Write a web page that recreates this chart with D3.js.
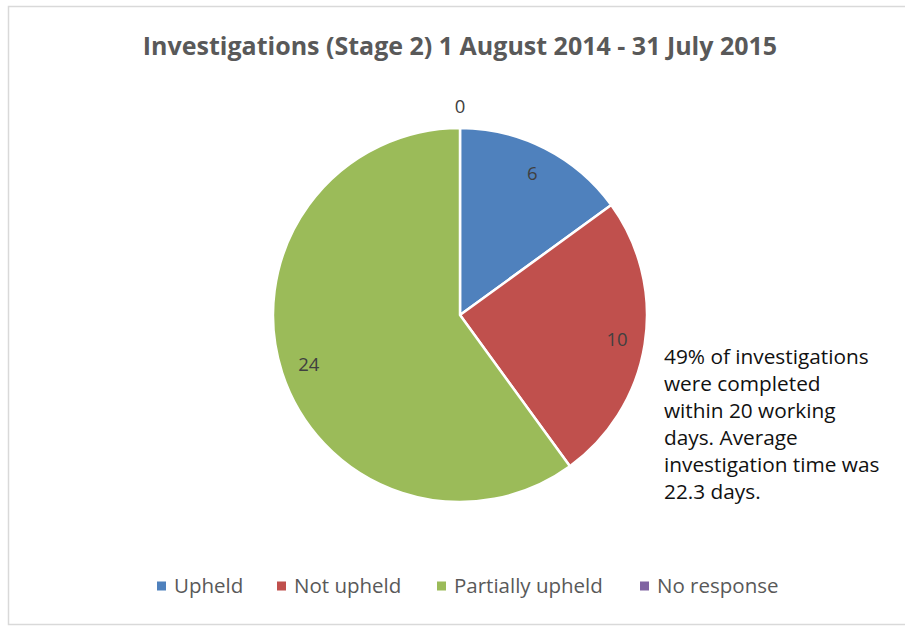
<!DOCTYPE html>
<html>
<head>
<meta charset="utf-8">
<script src="https://cdn.jsdelivr.net/npm/d3@7"></script>
<style>
  html, body { margin: 0; padding: 0; background: #fff; }
  svg { display: block; }
</style>
</head>
<body>
<svg id="chart" width="905" height="627"></svg>
<script>
var categories = ['Upheld', 'Not upheld', 'Partially upheld', 'No response'];
var values = [6, 10, 24, 0];
var colors = ['#4F81BD', '#C0504D', '#9BBB59', '#8064A2'];
var titleText = 'Investigations (Stage 2) 1 August 2014 - 31 July 2015';
var noteLines = [
    '49% of investigations',
    'were completed',
    'within 20 working',
    'days. Average',
    'investigation time was',
    '22.3 days.'
];

var FONT = 'Open Sans, Noto Sans, sans-serif';
var CX = 460, CY = 315, RADIUS = 187;

var svg = d3.select('#chart');

// outer chart border
svg.append('rect')
    .attr('x', 8.5).attr('y', 6.5)
    .attr('width', 910).attr('height', 618)
    .attr('fill', '#fff')
    .attr('stroke', '#d9d9d9')
    .attr('stroke-width', 1.5);

svg.append('text')
    .attr('x', 460).attr('y', 55)
    .attr('text-anchor', 'middle')
    .attr('font-family', FONT)
    .attr('font-weight', 'bold')
    .attr('font-size', 25)
    .attr('fill', '#595959')
    .text(titleText);

var data = categories.map(function(c, i) {
    return { name: c, value: values[i], color: colors[i] };
});

var pie = d3.pie().sort(null).value(function(d) { return d.value; });
var arcs = pie(data);

var arc = d3.arc().innerRadius(0).outerRadius(RADIUS);
var labelArc = d3.arc().innerRadius(RADIUS * 0.85).outerRadius(RADIUS * 0.85);
var outsideArc = d3.arc().innerRadius(RADIUS + 21).outerRadius(RADIUS + 21);

var g = svg.append('g').attr('transform', 'translate(' + CX + ',' + CY + ')');

g.selectAll('path.slice')
    .data(arcs.filter(function(d) { return d.value > 0; }))
    .enter().append('path')
    .attr('class', 'slice')
    .attr('d', arc)
    .attr('fill', function(d) { return d.data.color; })
    .attr('stroke', '#fff')
    .attr('stroke-width', 2.5)
    .attr('stroke-linejoin', 'round');

g.selectAll('text.label')
    .data(arcs)
    .enter().append('text')
    .attr('class', 'label')
    .attr('transform', function(d) {
        var p = d.value > 0 ? labelArc.centroid(d) : outsideArc.centroid(d);
        return 'translate(' + p[0] + ',' + p[1] + ')';
    })
    .attr('dy', '0.35em')
    .attr('text-anchor', 'middle')
    .attr('font-family', FONT)
    .attr('font-size', 18.5)
    .attr('fill', '#404040')
    .text(function(d) { return d.value; });

// annotation
var note = svg.append('text')
    .attr('font-family', FONT)
    .attr('font-size', 20.8)
    .attr('fill', '#111');
note.selectAll('tspan')
    .data(noteLines)
    .enter().append('tspan')
    .attr('x', 664)
    .attr('y', function(d, i) { return 364 + i * 27; })
    .text(function(d) { return d; });

// legend
var legendX = [157, 277, 437, 640];
var legend = svg.selectAll('g.legend')
    .data(data)
    .enter().append('g')
    .attr('class', 'legend')
    .attr('transform', function(d, i) { return 'translate(' + legendX[i] + ',586)'; });

legend.append('rect')
    .attr('x', 0).attr('y', -4.5)
    .attr('width', 9).attr('height', 9)
    .attr('fill', function(d) { return d.color; });

legend.append('text')
    .attr('x', 17)
    .attr('dy', '0.35em')
    .attr('font-family', FONT)
    .attr('font-size', 20.5)
    .attr('fill', '#595959')
    .text(function(d) { return d.name; });
</script>
</body>
</html>
